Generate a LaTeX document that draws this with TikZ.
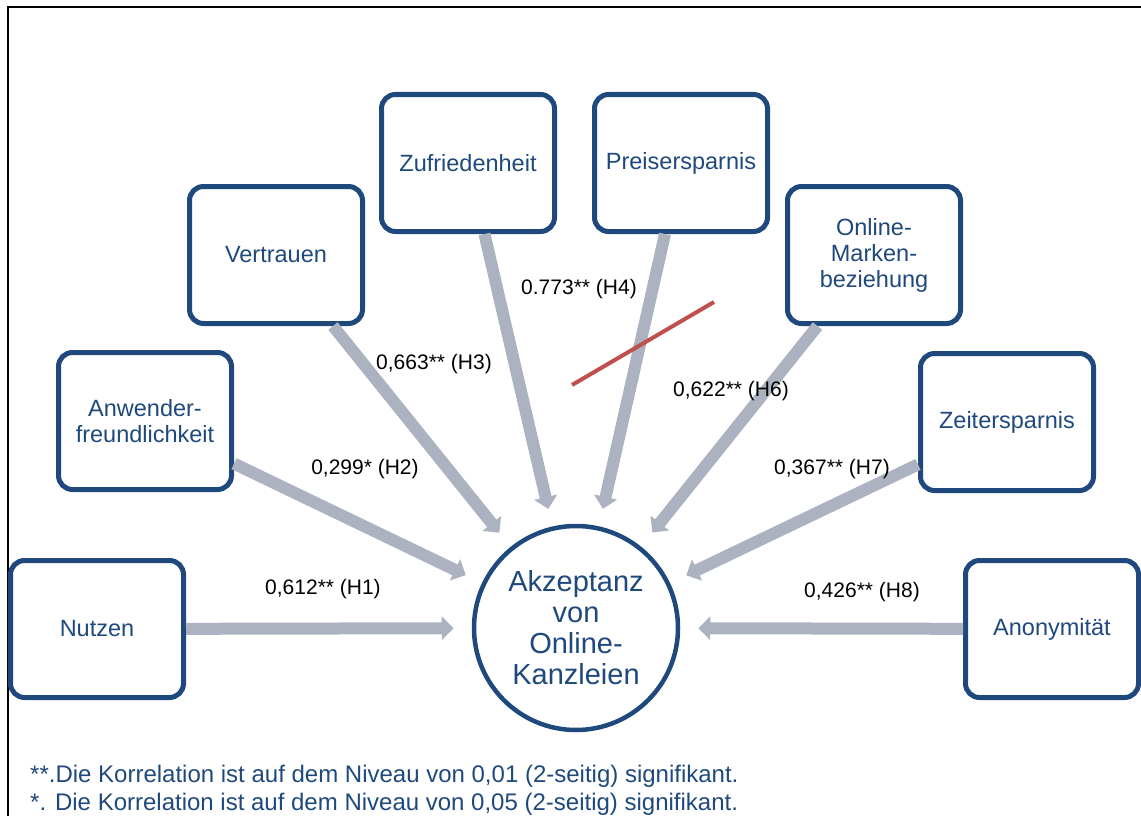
\documentclass[tikz,border=0pt]{standalone}
\usepackage{fontspec}
\setmainfont{Liberation Sans}
\usetikzlibrary{arrows.meta}
\definecolor{boxblue}{RGB}{31,73,125}
\definecolor{arrowgray}{RGB}{172,178,192}
\definecolor{strikered}{RGB}{192,80,77}

\begin{document}
\begin{tikzpicture}[x=1pt, y=-1pt,
    box/.style={draw=boxblue, line width=5pt, fill=white, rounded corners=14pt,
                minimum width=173pt, minimum height=137pt, align=center,
                text=boxblue, font=\fontsize{23.5}{26}\selectfont},
    hub/.style={circle, draw=boxblue, line width=4.5pt, fill=white, minimum size=204pt,
                inner sep=0pt, align=center, text=boxblue, font=\fontsize{29}{31}\selectfont},
    arr/.style={-{Triangle[width=23pt, length=12pt]}, line width=12pt, arrowgray, shorten >=18pt},
    lbl/.style={inner sep=0pt, font=\fontsize{21}{24}\selectfont},
    note/.style={anchor=base west, inner sep=0pt, text=boxblue, font=\fontsize{24}{28}\selectfont}
]
\useasboundingbox (0,0) rectangle (1141,816);
\draw[line width=1.6pt] (1141,7) -- (8,7) -- (8,816);

% factors
\node[box] (nutzen) at (97,629) {Nutzen};
\node[box] (anwender) at (145,421) {Anwender-\\freundlichkeit};
\node[box] (vertrauen) at (276,255) {Vertrauen};
\node[box] (zufrieden) at (468,163) {Zufriedenheit};
\node[box] (preis) at (681,163) {Preisersparnis};
\node[box] (marke) at (874,255) {Online-\\Marken-\\beziehung};
\node[box] (zeit) at (1007,422) {Zeitersparnis};
\node[box] (anonym) at (1052,629) {Anonymität};

\node[hub] (akz) at (576,628) {Akzeptanz\\von\\Online-\\Kanzleien};

% effects
\draw[arr] (nutzen) -- (akz);
\draw[arr] (anwender) -- (akz);
\draw[arr] (vertrauen) -- (akz);
\draw[arr] (zufrieden) -- (akz);
\draw[arr] (preis) -- (akz);
\draw[arr] (marke) -- (akz);
\draw[arr] (zeit) -- (akz);
\draw[arr] (anonym) -- (akz);

\node[lbl] (h1) at (323,589) {0,612** (H1)};
\node[lbl] (h2) at (365,469) {0,299* (H2)};
\node[lbl] (h3) at (434,364) {0,663** (H3)};
\node[lbl] (h4) at (579,289) {0.773** (H4)};
\node[lbl] (h6) at (731,391) {0,622** (H6)};
\node[lbl] (h7) at (832,469) {0,367** (H7)};
\node[lbl] (h8) at (862,592) {0,426** (H8)};

% struck out hypothesis
\coordinate (strikeA) at (572,385);
\coordinate (strikeB) at (714,302);
\draw[strikered, line width=4pt] (strikeA) -- (strikeB);

\node[note] (note1) at (30,782) {**.Die Korrelation ist auf dem Niveau von 0,01 (2-seitig) signifikant.};
\node[note] (note2) at (30,810) {*. Die Korrelation ist auf dem Niveau von 0,05 (2-seitig) signifikant.};
\end{tikzpicture}
\end{document}
